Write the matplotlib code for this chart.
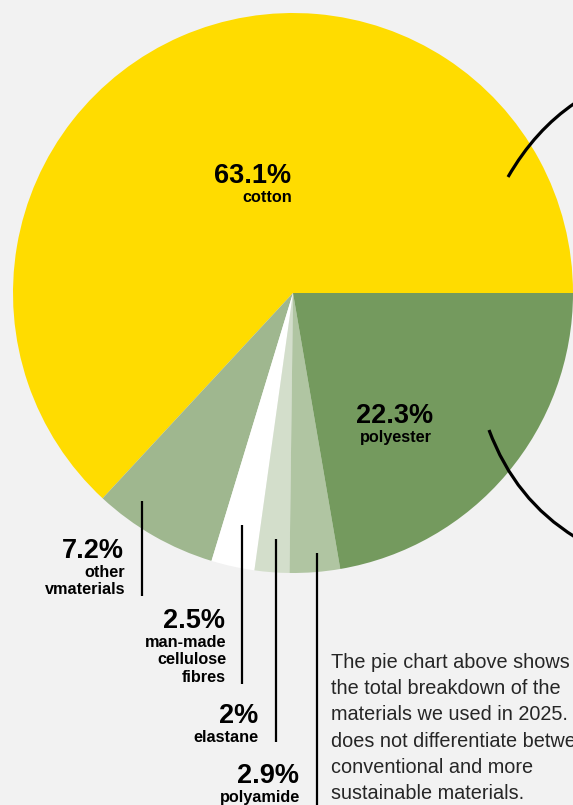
import matplotlib.pyplot as plt
from matplotlib.path import Path
from matplotlib.patches import PathPatch

# 数据
materials = ['cotton', 'other\nvmaterials', 'man-made\ncellulose\nfibres', 'elastane', 'polyamide', 'polyester']
shares = [63.1, 7.2, 2.5, 2.0, 2.9, 22.3]
pct_labels = ['63.1%', '7.2%', '2.5%', '2%', '2.9%', '22.3%']
colors = ['#FFDC00', '#9FB78F', '#FFFFFF', '#D3DECB', '#B0C5A2', '#749A5E']
note_lines = ['The pie chart above shows', 'the total breakdown of the',
              'materials we used in 2025.', 'does not differentiate between',
              'conventional and more', 'sustainable materials.']

W, H = 573, 805
bg = '#F2F2F2'
fig = plt.figure(figsize=(W / 100, H / 100), dpi=100, facecolor=bg)
ax = fig.add_axes([0, 0, 1, 1])
ax.set_facecolor(bg)

# 饼图 (像素坐标, y 向上)
ax.pie(shares, colors=colors, startangle=0, counterclock=True,
       center=(293, H - 293), radius=280, wedgeprops=dict(linewidth=0))
ax.set_xlim(0, W)
ax.set_ylim(0, H)
ax.set_aspect('equal')
ax.axis('off')

big = dict(fontsize=19.5, fontweight='bold', family='Liberation Sans', color='#000000')
small = dict(fontsize=11.7, fontweight='bold', family='Liberation Sans', color='#000000')


def label(x, y, i, ha):
    # 百分比 + 名称 (逐行放置)
    ax.text(x, H - y, pct_labels[i], ha=ha, va='baseline', **big)
    for k, s in enumerate(materials[i].split('\n')):
        ax.text(x + 1, H - (y + 19 + 17.5 * k), s, ha=ha, va='baseline', **small)


# 扇区内标签
label(291, 183, 0, 'right')
label(395, 423, 5, 'center')

# 外部标签与引线
outer = [(1, 124, 558, 142, 501, 596),
         (2, 225, 628, 242, 525, 684),
         (3, 258, 723, 275.5, 539, 742),
         (4, 299, 783, 317, 553, 805)]
for i, tx, ty, lx, y0, y1 in outer:
    label(tx, ty, i, 'right')
    ax.plot([lx, lx], [H - y0, H - y1], color='#000000', lw=1.6, solid_capstyle='butt')

# 右侧弧线
for pts in [[(508, 177), (535, 130), (575, 103)], [(489, 430), (515, 500), (575, 537)]]:
    verts = [(x, H - y) for x, y in pts]
    ax.add_patch(PathPatch(Path(verts, [Path.MOVETO, Path.CURVE3, Path.CURVE3]),
                           fill=False, lw=2.3, color='#000000', capstyle='butt'))

# 说明文字
for k, line in enumerate(note_lines):
    ax.text(331, H - (668 + 26.2 * k), line, ha='left', va='baseline',
            fontsize=14.3, family='Liberation Sans', color='#262626')

fig.savefig('out.png', dpi=100, facecolor=bg)
